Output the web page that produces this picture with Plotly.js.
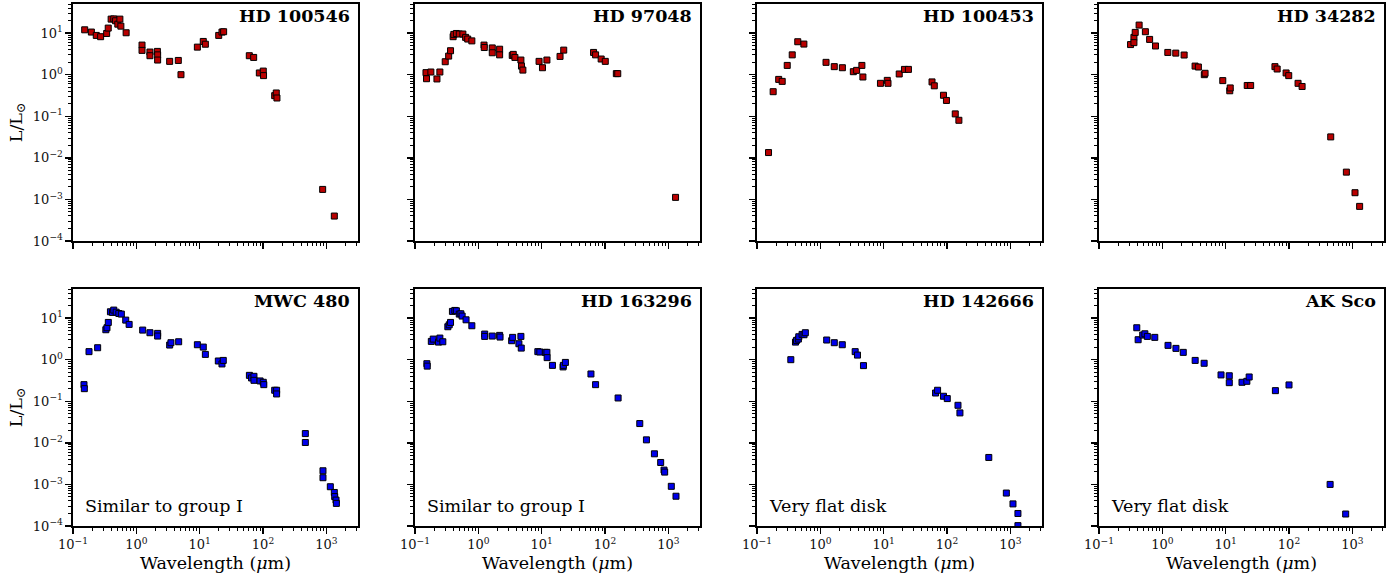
<!DOCTYPE html>
<html>
<head>
<meta charset="utf-8">
<script src="https://cdn.plot.ly/plotly-3.0.1.min.js"></script>
<style>html,body{margin:0;padding:0;background:#fff;}#chart{width:1399px;height:579px;}</style>
</head>
<body>
<div id="chart"></div>
<script>
// ---------- data (wavelength in micron, L/Lsun) ----------
const names = ['HD 100546','HD 97048','HD 100453','HD 34282','MWC 480','HD 163296','HD 142666','AK Sco'];
const notes = ['','','','','Similar to group I','Similar to group I','Very flat disk','Very flat disk'];

const hd100546_wl = [0.153,0.195,0.233,0.273,0.34,0.36,0.40,0.44,0.47,0.51,0.55,0.57,0.69,1.23,1.23,1.64,1.64,2.15,2.17,2.17,3.36,4.6,5.07,9.2,11.4,12.3,20,22.5,23.9,60.8,71.2,87.5,101,102,153,162,166,875,1337];
const hd100546_L  = [12,10.6,8.8,8.2,9.8,13.2,21.7,22,19.8,16.4,21.7,14.7,10.2,5.15,3.84,3.5,2.86,3.63,3.0,2.25,2.09,2.2,1.0,4.6,6.3,5.4,8.8,10.6,10.8,2.86,2.6,1.1,1.22,0.95,0.313,0.363,0.275,0.00174,0.000398];

const hd97048_wl = [0.149,0.152,0.178,0.222,0.247,0.30,0.34,0.364,0.40,0.41,0.45,0.50,0.57,0.63,0.68,0.79,1.23,1.24,1.66,1.66,2.17,2.17,3.43,3.56,3.78,4.7,4.8,5.05,9.1,10.3,12.1,19.5,22.3,66,71,87,101,151,159,1300];
const hd97048_L  = [1.12,0.80,1.16,0.79,1.16,2.05,2.8,3.77,8.2,9.3,9.8,9.5,9.5,7.9,7.2,6.5,5.15,4.5,4.4,3.37,4.1,3.0,2.9,3.08,2.6,2.25,1.61,1.29,2.09,1.47,2.25,2.75,3.9,3.43,3.0,2.38,2.09,1.06,1.06,0.00112];

const hd100453_wl = [0.152,0.18,0.22,0.25,0.30,0.36,0.44,0.55,1.23,1.66,2.23,3.32,3.74,4.53,4.7,8.9,11.4,11.7,17.6,21.3,24.6,58,63,88,98,135,154];
const hd100453_L  = [0.0134,0.39,0.77,0.69,1.67,3.0,6.2,5.45,1.98,1.56,1.47,1.18,1.27,1.67,0.88,0.62,0.73,0.62,1.04,1.34,1.34,0.67,0.54,0.32,0.24,0.114,0.080];

const hd34282_wl = [0.315,0.356,0.356,0.373,0.43,0.54,0.63,0.78,1.22,1.63,2.21,3.29,3.71,4.6,4.73,9.0,11.6,11.8,21.9,24.8,60,65,90,99,139,161,456,805,1102,1304];
const hd34282_L  = [5.3,7.9,5.9,10.4,15.6,10.8,7.05,4.9,3.43,3.3,2.97,1.61,1.53,1.0,1.08,0.72,0.41,0.48,0.55,0.55,1.56,1.37,1.10,0.95,0.62,0.52,0.0319,0.00453,0.00145,0.00068];

const mwc480_wl = [0.149,0.151,0.179,0.245,0.33,0.344,0.361,0.39,0.42,0.44,0.48,0.53,0.58,0.68,0.77,1.26,1.64,2.17,2.17,3.36,3.52,4.66,9.2,11.4,12.3,19.7,22.5,23.6,61,66,72,72,90,101,103,153,164,164,466,466,885,885,1156,1337,1355,1422,1440];
const mwc480_L  = [0.251,0.201,1.56,1.94,5.25,5.86,7.87,14.2,13.7,15.6,13.9,12.9,12.5,8.95,7.05,5.15,4.45,4.29,3.7,2.25,2.56,2.7,2.29,2.01,1.34,0.93,0.79,0.96,0.42,0.363,0.398,0.319,0.308,0.286,0.251,0.184,0.184,0.15,0.0167,0.0102,0.00213,0.00145,0.00088,0.00064,0.00051,0.00042,0.00035];

const hd163296_wl = [0.154,0.156,0.181,0.194,0.235,0.247,0.275,0.33,0.347,0.364,0.39,0.425,0.45,0.50,0.53,0.555,0.64,0.79,1.26,1.26,1.66,2.17,2.2,3.36,3.48,4.37,4.7,4.76,8.7,9.36,11.4,12.1,12.2,14.8,21.8,22,23.7,60,71,161,354,451,603,757,855,875,1114,1321];
const hd163296_L  = [0.80,0.70,2.75,3.13,2.65,3.31,2.7,6.2,6.9,7.87,14.5,15.3,15.0,12.5,12.7,11.2,9.1,6.55,4.13,3.63,3.7,3.84,3.5,2.86,3.44,2.42,3.63,1.9,1.56,1.53,1.5,1.5,1.12,0.73,0.67,0.73,0.86,0.453,0.251,0.12,0.0291,0.0118,0.00545,0.00337,0.00221,0.00198,0.00090,0.00052];

const hd142666_wl = [0.342,0.405,0.42,0.45,0.457,0.515,0.553,0.58,1.26,1.66,2.22,3.55,3.86,4.8,66,71,88,101,149,160,457,865,1101,1318,1318];
const hd142666_L  = [1.0,2.65,2.91,3.13,3.56,4.06,3.98,4.45,2.97,2.56,2.29,1.56,1.29,0.72,0.158,0.184,0.132,0.116,0.080,0.0525,0.00445,0.00062,0.00034,0.0002,0.000102];

const akSco_wl = [0.395,0.415,0.49,0.53,0.58,0.76,1.23,1.64,2.14,3.3,4.57,8.45,11.4,11.4,18.1,21.6,23.5,61,100,446,785];
const akSco_L  = [5.86,3.02,3.91,4.2,3.63,3.44,2.21,1.87,1.5,0.96,0.82,0.43,0.41,0.28,0.286,0.302,0.384,0.18,0.247,0.001,0.000194];

const xTickVals = [0.1,1,10,100,1000];
const xTickText = ['10<sup>−1</sup>','10<sup>0</sup>','10<sup>1</sup>','10<sup>2</sup>','10<sup>3</sup>'];
const yTickVals = [1e-4,1e-3,1e-2,1e-1,1,10];
const yTickText = ['10<sup>−4</sup>','10<sup>−3</sup>','10<sup>−2</sup>','10<sup>−1</sup>','10<sup>0</sup>','10<sup>1</sup>'];
const xLabel = 'Wavelength (<i>μ</i>m)';
const yLabel = 'L/L<sub>⊙</sub>';

// ---------- build ----------
const series = [
  [hd100546_wl,hd100546_L],[hd97048_wl,hd97048_L],[hd100453_wl,hd100453_L],[hd34282_wl,hd34282_L],
  [mwc480_wl,mwc480_L],[hd163296_wl,hd163296_L],[hd142666_wl,hd142666_L],[akSco_wl,akSco_L]
];
const RED = 'rgb(185,0,0)', BLUE = 'rgb(0,0,235)';
const W = 1399, H = 579;
const colLeft = [73,415,757,1099], panelW = 285;
const rowTop = [4,289], panelH = 237;
const FONT = 'DejaVu Serif';

function minorVals(lo, hi){
  const out=[];
  for(let e=lo;e<=hi;e++){ for(let m=2;m<=9;m++){ out.push(m*Math.pow(10,e)); } }
  return out;
}
const xMinor = minorVals(-1,3), yMinor = minorVals(-5,1);

const traces = [], layout = {
  width: W, height: H, margin:{l:0,r:0,t:0,b:0},
  paper_bgcolor:'white', plot_bgcolor:'white', showlegend:false,
  font:{family:FONT, color:'black', size:13},
  annotations: []
};

series.forEach((s,i)=>{
  const n = i+1, row = Math.floor(i/4), col = i%4;
  const xa = n===1?'x':'x'+n, ya = n===1?'y':'y'+n;
  traces.push({
    type:'scatter', mode:'markers', x:s[0], y:s[1], xaxis:xa, yaxis:ya,
    marker:{symbol:'square', size:6, color: row===0?RED:BLUE, line:{color:'black', width:1}},
    hoverinfo:'x+y'
  });
  const x0 = colLeft[col], y0 = rowTop[row];
  const common = {
    type:'log', showgrid:false, zeroline:false, showline:true, mirror:true,
    linecolor:'black', linewidth:1.6, ticks:'outside', ticklen:6, tickwidth:1.4, tickcolor:'black',
    tickmode:'array', tickfont:{family:FONT, size:13, color:'#111'}
  };
  const xax = Object.assign({}, common, {
    anchor: ya, domain:[x0/W,(x0+panelW)/W], range:[-1,3.5],
    tickvals:xTickVals, ticktext:xTickText, showticklabels: row===1,
    minor:{tickmode:'array', tickvals:xMinor, ticks:'outside', ticklen:3.5, tickwidth:1, tickcolor:'black'}
  });
  if(row===1) xax.title = {text:xLabel, font:{family:FONT, size:17.5}, standoff:5};
  const yax = Object.assign({}, common, {
    anchor: xa, domain:[1-(y0+panelH)/H, 1-y0/H], range:[-4,1.7],
    tickvals:yTickVals, ticktext:yTickText, showticklabels: col===0,
    minor:{tickmode:'array', tickvals:yMinor, ticks:'outside', ticklen:3.5, tickwidth:1, tickcolor:'black'}
  });
  if(col===0) yax.title = {text:yLabel, font:{family:FONT, size:17.5}, standoff:6};
  layout['xaxis'+(n===1?'':n)] = xax;
  layout['yaxis'+(n===1?'':n)] = yax;
  layout.annotations.push({
    text:'<b>'+names[i]+'</b>', xref:(xa)+' domain', yref:(ya)+' domain',
    x:0.978, y:0.998, xanchor:'right', yanchor:'top', showarrow:false,
    font:{family:FONT, size:17.5, color:'black'}
  });
  if(notes[i]){
    layout.annotations.push({
      text:notes[i], xref:(xa)+' domain', yref:(ya)+' domain',
      x:0.035, y:0.085, xanchor:'left', yanchor:'middle', showarrow:false,
      font:{family:FONT, size:17.5, color:'black'}
    });
  }
});

Plotly.newPlot('chart', traces, layout, {staticPlot:true, displayModeBar:false});
</script>
</body>
</html>
